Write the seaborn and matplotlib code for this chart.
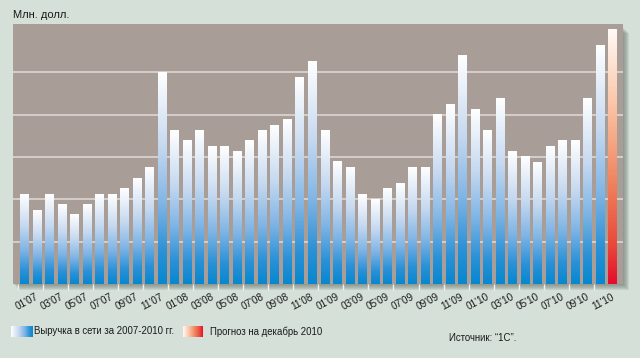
import numpy as np
import pandas as pd
import matplotlib
matplotlib.use('Agg')
import matplotlib.pyplot as plt
from matplotlib.colors import LinearSegmentedColormap
from matplotlib.patches import Rectangle
import seaborn as sns

# monthly sales, mln USD, last bar is the forecast
years = ['07', '08', '09', '10']
months = [f"{m:02d}'{y}" for y in years for m in range(1, 13)]
revenue = [2.12, 1.74, 2.12, 1.88, 1.63, 1.88, 2.12, 2.12, 2.25, 2.50, 2.75, 5.00,
           3.63, 3.38, 3.63, 3.25, 3.25, 3.12, 3.38, 3.63, 3.75, 3.88, 4.88, 5.26,
           3.63, 2.89, 2.75, 2.12, 2.00, 2.25, 2.38, 2.75, 2.75, 4.00, 4.25, 5.39,
           4.12, 3.63, 4.38, 3.12, 3.00, 2.87, 3.25, 3.38, 3.38, 4.38, 5.63, 6.00]
kind = ['fact'] * 47 + ['forecast']
tick_labels = months[::2]
legend_labels = ['Выручка в сети за 2007-2010 гг.', 'Прогноз на декабрь 2010']
y_label = 'Млн. долл.'
source = 'Источник: “1С”.'

FIG_BG = '#d5e0d8'
PLOT_BG = '#a89e97'
FONT = ['Liberation Sans', 'DejaVu Sans']

blue_cmap = LinearSegmentedColormap.from_list(
    'blue_grad', [(0, '#ffffff'), (0.35, '#c6d9f0'), (0.62, '#80b5e5'), (0.85, '#2a91d7'), (1, '#0787cf')])
red_cmap = LinearSegmentedColormap.from_list(
    'red_grad', [(0, '#fffaf6'), (0.3, '#fbc4a6'), (0.6, '#f0835e'), (0.85, '#e9483a'), (1, '#e50c2c')])
cmaps = {'fact': blue_cmap, 'forecast': red_cmap}

sns.set_theme(style='white')
plt.rcParams['font.family'] = FONT

W, H = 640, 358
fig = plt.figure(figsize=(6.4, 3.58), dpi=100, facecolor=FIG_BG)
ax_l, ax_b, ax_r, ax_t = 13, 284, 622.5, 24
ax = fig.add_axes([ax_l / W, 1 - ax_b / H, (ax_r - ax_l) / W, (ax_b - ax_t) / H])
ax.set_facecolor(PLOT_BG)

# soft drop shadow right/below the plot area
for k in range(1, 7):
    fig.patches.append(Rectangle(((ax_l + k) / W, 1 - (ax_b + k) / H), (ax_r - ax_l) / W,
                                 (ax_b - ax_t - 3) / H, transform=fig.transFigure,
                                 facecolor='#5f6964', edgecolor='none', alpha=0.13, zorder=-1))

df = pd.DataFrame({'month': months, 'value': revenue, 'kind': kind})
sns.barplot(data=df, x='month', y='value', hue='kind', dodge=False, width=0.66,
            palette={'fact': '#0787cf', 'forecast': '#e50c2c'}, legend=False, ax=ax)

grad = np.linspace(0, 1, 256).reshape(-1, 1)
for p in ax.patches:
    h = p.get_height()
    if not np.isfinite(h) or h <= 0:
        continue
    x0 = p.get_x()
    idx = int(round(x0 + p.get_width() / 2))
    p.set_facecolor('none')
    p.set_edgecolor('none')
    ax.imshow(grad, cmap=cmaps[kind[idx]], aspect='auto', extent=[x0, x0 + p.get_width(), 0, h],
              zorder=3, interpolation='bilinear')

ax.set_xlim(-0.89, 47.79)
ax.set_ylim(0, 6.14)
ax.set_yticks([1, 2, 3, 4, 5])
ax.yaxis.grid(True, color='#dcd6d2', linewidth=1.2)
ax.set_axisbelow(True)
ax.tick_params(axis='y', left=False, labelleft=False)
ax.set_xticks([i - 0.5 for i in range(0, 48, 2)])
ax.set_xticklabels(tick_labels, rotation=28, ha='left', va='baseline', rotation_mode='anchor',
                   fontsize=7.2, color='#1a1a1a')
ax.tick_params(axis='x', bottom=True, length=4, width=1, color='#eef1ef', pad=15, direction='out')
ax.set_xlabel('')
ax.set_ylabel('')
for s in ax.spines.values():
    s.set_visible(False)

fig.text(13 / W, 1 - 15 / H, y_label, fontsize=8, color='#1a1a1a', va='center', ha='left')

# legend swatches with horizontal gradients
hgrad = np.linspace(0, 1, 256).reshape(1, -1)
for (sx, sw), cm in [((11, 22), blue_cmap), ((183, 20), red_cmap)]:
    sax = fig.add_axes([sx / W, 1 - 337 / H, sw / W, 11 / H])
    sax.imshow(hgrad, cmap=cm, aspect='auto', interpolation='bilinear')
    sax.axis('off')
fig.text(34 / W, 1 - 331.5 / H, legend_labels[0], fontsize=6.9, color='#1a1a1a', va='center')
fig.text(210 / W, 1 - 331.5 / H, legend_labels[1], fontsize=6.9, color='#1a1a1a', va='center')
fig.text(516 / W, 1 - 338 / H, source, fontsize=6.9, color='#1a1a1a', va='center', ha='right')

fig.savefig('out.png', dpi=100, facecolor=FIG_BG)
